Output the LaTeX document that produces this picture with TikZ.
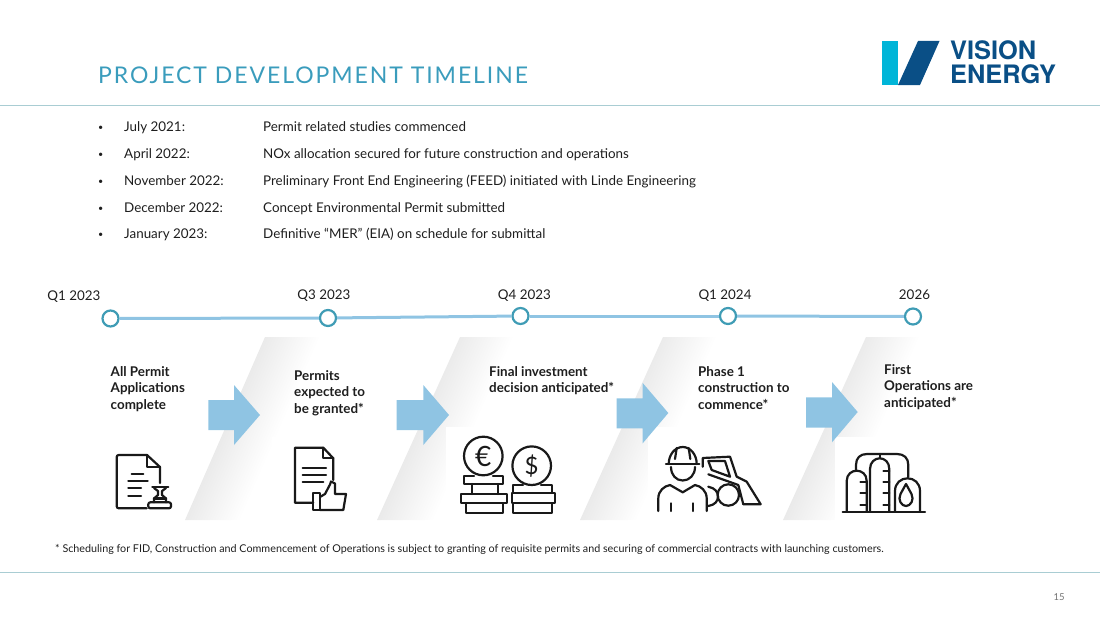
\documentclass[tikz,border=0pt]{standalone}
\usepackage{fontspec}
\setmainfont{Lato}
\newfontfamily\titlefont[LetterSpace=8.4]{Lato}
\newfontfamily\logofont{TeX Gyre Heros}
\usetikzlibrary{shadings}
\definecolor{ruleteal}{HTML}{A9CDD3}
\definecolor{titleteal}{HTML}{3A9CBC}
\definecolor{dotteal}{HTML}{3F9CB5}
\definecolor{lineblue}{HTML}{8FC4E3}
\definecolor{logocyan}{HTML}{00B5D8}
\definecolor{logoblue}{HTML}{0A4F86}
\definecolor{inkgray}{HTML}{1E1E1E}

\begin{document}
\begin{tikzpicture}[x=1pt,y=1pt]
	\tikzstyle{every node}+=[inner sep=0pt]
	\tikzstyle{headrule}=[ruleteal,line width=1pt]
	\tikzstyle{bodytext}=[anchor=base west,text=inkgray,font=\fontsize{13.4}{16}\selectfont]
	\tikzstyle{bullet}=[anchor=base west,text=inkgray,font=\fontsize{9}{16}\selectfont]
	\tikzstyle{quarter}=[text=inkgray,font=\fontsize{13.4}{16}\selectfont]
	\tikzstyle{stagelabel}=[anchor=north west,align=left,text=inkgray,font=\fontsize{13.4}{16.5}\selectfont\bfseries]
	\tikzstyle{milestone}=[circle,draw=dotteal,fill=white,line width=2.2pt,minimum size=16pt]
	\tikzstyle{timeline}=[lineblue,line width=3pt]
	\tikzstyle{band}=[left color=black!15,right color=white,middle color=white,shading angle=66.4]
	\tikzstyle{stagearrow}=[fill=lineblue]
	\tikzstyle{icon}=[black!90,line width=2.2pt,line join=round,line cap=round]
	\useasboundingbox (0,0) rectangle (1100,-618);
	% header
	\node [anchor=base west,text=titleteal,font=\titlefont\fontsize{23}{24}\selectfont] (title) at (98,-83) {PROJECT DEVELOPMENT TIMELINE};
	\draw [headrule] (0,-105) -- (1100,-105);
	\draw [headrule] (0,-572) -- (1100,-572);
	\fill [logocyan] (882,-41) rectangle (898,-85);
	\fill [logoblue] (898,-85) -- (918,-41) -- (939.5,-41) -- (920,-85) -- cycle;
	\node [anchor=base west,text=logoblue,font=\logofont\bfseries\fontsize{25.4}{24}\selectfont] (vision) at (950,-59.5) {VISION};
	\node [anchor=base west,text=logoblue,font=\logofont\bfseries\fontsize{25.4}{24}\selectfont] (energy) at (950,-84) {ENERGY};
	% bullets
	\node [bullet] (b1) at (98,-130) {•};
	\node [bodytext] (d1) at (124,-131) {July 2021:};
	\node [bodytext] (t1) at (263,-131) {Permit related studies commenced};
	\node [bullet] (b2) at (98,-157) {•};
	\node [bodytext] (d2) at (124,-158) {April 2022:};
	\node [bodytext] (t2) at (263,-158) {NOx allocation secured for future construction and operations};
	\node [bullet] (b3) at (98,-184) {•};
	\node [bodytext] (d3) at (124,-185) {November 2022:};
	\node [bodytext] (t3) at (263,-185) {Preliminary Front End Engineering (FEED) initiated with Linde Engineering};
	\node [bullet] (b4) at (98,-211) {•};
	\node [bodytext] (d4) at (124,-212) {December 2022:};
	\node [bodytext] (t4) at (263,-212) {Concept Environmental Permit submitted};
	\node [bullet] (b5) at (98,-237) {•};
	\node [bodytext] (d5) at (124,-238) {January 2023:};
	\node [bodytext] (t5) at (263,-238) {Definitive “MER” (EIA) on schedule for submittal};
	% timeline
	\node [milestone] (qa) at (110.5,-318.5) {};
	\node [milestone] (qb) at (328,-318) {};
	\node [milestone] (qc) at (520.5,-316) {};
	\node [milestone] (qd) at (728,-316) {};
	\node [milestone] (qe) at (913,-316.5) {};
	\draw [timeline] (qa) -- (qb);
	\draw [timeline] (qb) -- (qc);
	\draw [timeline] (qc) -- (qd);
	\draw [timeline] (qd) -- (qe);
	\node [quarter] (la) at (74,-297) {Q1 2023};
	\node [quarter] (lb) at (324,-296) {Q3 2023};
	\node [quarter] (lc) at (524.5,-296) {Q4 2023};
	\node [quarter] (ld) at (725,-296) {Q1 2024};
	\node [quarter] (le) at (914.5,-295) {2026};
	% bands
	\shade [band] (185,-520) -- (265,-337) -- (375,-337) -- (295,-520) -- cycle;
	\shade [band] (377,-520) -- (460,-337) -- (570,-337) -- (487,-520) -- cycle;
	\shade [band] (580,-520) -- (663,-337) -- (773,-337) -- (690,-520) -- cycle;
	\shade [band] (783,-520) -- (866,-337) -- (976,-337) -- (893,-520) -- cycle;
	\fill [white] (272,-437) rectangle (377,-521);
	\fill [white] (446,-427) rectangle (578,-521);
	\fill [white] (648,-427) rectangle (780,-521);
	\fill [white] (835,-437) rectangle (940,-521);
	% arrows
	\fill [stagearrow] (208.3,-400) -- (234,-400) -- (234,-385) -- (260,-415) -- (234,-445) -- (234,-430) -- (208.3,-430) -- cycle;
	\fill [stagearrow] (396.7,-400) -- (423.3,-400) -- (423.3,-385) -- (449,-415) -- (423.3,-445) -- (423.3,-430) -- (396.7,-430) -- cycle;
	\fill [stagearrow] (616.7,-398.3) -- (642.7,-398.3) -- (642.7,-383) -- (668.3,-413) -- (642.7,-443.3) -- (642.7,-428.3) -- (616.7,-428.3) -- cycle;
	\fill [stagearrow] (806,-397.3) -- (832,-397.3) -- (832,-382) -- (857.7,-412) -- (832,-442.3) -- (832,-427.6) -- (806,-427.6) -- cycle;
	% stage labels
	\node [stagelabel] (sa) at (110.5,-366) {All Permit\\Applications\\complete};
	\node [stagelabel] (sb) at (294,-370) {Permits\\expected to\\be granted*};
	\node [stagelabel] (sc) at (489,-366) {Final investment\\decision anticipated*};
	\node [stagelabel] (sd) at (698,-366) {Phase 1\\construction to\\commence*};
	\node [stagelabel] (se) at (884,-364) {First\\Operations are\\anticipated*};
	% permit icon
	\draw [icon,rounded corners=2pt] (147,-455) -- (116.7,-455) -- (116.7,-508.3) -- (146.7,-508.3);
	\draw [icon] (147,-455) -- (160,-467) -- (160,-483);
	\draw [icon] (147,-455) -- (147,-467) -- (160,-467);
	\draw [icon] (131.7,-474) -- (143.3,-474);
	\draw [icon] (128.3,-481) -- (147.7,-481);
	\draw [icon] (128.3,-488.3) -- (141,-488.3);
	\draw [icon] (128.3,-495.7) -- (141,-495.7);
	\draw [icon] (152.3,-487.3) -- (168.3,-487.3);
	\draw [icon] (154,-488) -- (158,-491) -- (158,-495) -- (154,-498.5) -- (154,-502.3);
	\draw [icon] (166,-488) -- (162,-491) -- (162,-495) -- (166,-498.5) -- (166,-502.3);
	\draw [icon] (154,-498.5) -- (166,-498.5);
	\draw [icon,rounded corners=2pt] (148.3,-502.3) rectangle (171,-508.3);
	% thumb icon
	\draw [icon] (313.3,-502.7) -- (295,-502.7) -- (295,-447.7) -- (323.3,-447.7) -- (333.3,-458.3) -- (333.3,-480);
	\draw [icon] (323.3,-447.7) -- (323.3,-458.3) -- (333.3,-458.3);
	\draw [icon] (302.7,-468.3) -- (326,-468.3);
	\draw [icon] (302.7,-475) -- (326,-475);
	\draw [icon] (302.7,-482.3) -- (323.3,-482.3);
	\draw [icon] (313.3,-493.3) rectangle (320,-510);
	\draw [icon] (320,-497) -- (325,-494) -- (330,-484.5) -- (331,-481.5) -- (335,-483.5) -- (335,-494) -- (346,-494) -- (343.3,-510) -- (320,-510);
	% coins icon
	\draw [icon] (483.3,-456) circle (19.3);
	\draw [icon] (531.7,-465.7) circle (19.3);
	\node [font=\fontsize{28}{28}\selectfont,text=black!90] (euro) at (483.3,-456) {€};
	\node [font=\fontsize{24}{24}\selectfont,text=black!90] (dollar) at (531.7,-465.7) {\$};
	\draw [icon] (474,-476) -- (464,-476) -- (464,-484) -- (503.3,-484) -- (503.3,-476) -- (493,-476);
	\draw [icon] (471.7,-484) -- (471.7,-494);
	\draw [icon] (498.3,-484) -- (498.3,-494);
	\draw [icon] (460.7,-494) rectangle (506.7,-503.3);
	\draw [icon] (466,-503.3) rectangle (503.3,-512.7);
	\draw [icon] (523,-485) -- (513.3,-485) -- (513.3,-493.3) -- (551.7,-493.3) -- (551.7,-485) -- (541,-485);
	\draw [icon] (511.7,-493.3) rectangle (555,-503.3);
	\draw [icon] (513.3,-503.3) rectangle (551.7,-512.7);
	% builder icon
	\draw [icon] (666,-464) -- (699.3,-464);
	\draw [icon] (668.7,-464) arc (180:0:14 and 17);
	\draw [icon] (676.7,-448) -- (675,-459);
	\draw [icon] (688.7,-448) -- (690.3,-459);
	\draw [icon] (671,-467) .. controls (671,-475) and (676,-480.5) .. (682.7,-480.5) .. controls (689.5,-480.5) and (695,-475) .. (695,-467);
	\draw [icon] (658.3,-511) -- (658.3,-498.3) .. controls (658.3,-491) and (664,-486) .. (670,-485) -- (682.7,-492.3) -- (695,-485) .. controls (701,-486) and (706.7,-491) .. (706.7,-498.3) -- (706.7,-511);
	\draw [icon] (671,-503.3) -- (671,-511);
	\draw [icon] (693.3,-503.3) -- (693.3,-511);
	\draw [icon] (702.7,-466.7) -- (702.7,-458) -- (730,-456.7) -- (736.7,-476.7) -- (746.7,-481.7) -- (760.7,-504.3) -- (743.3,-504.3) -- (738.3,-485) -- (708.3,-474.3);
	\draw [icon] (708.3,-461) -- (725,-461) -- (730,-476.7) -- (711.7,-470) -- cycle;
	\draw [icon] (728.3,-495) circle (10.7);
	\draw [icon] (708.3,-486.7) .. controls (715,-488) and (718,-492) .. (718,-496.5) .. controls (718,-501) and (715,-505) .. (708.3,-506);
	% plant icon
	\draw [icon] (842.7,-511.7) -- (925,-511.7);
	\draw [icon] (846.7,-511.7) -- (846.7,-481) .. controls (846.7,-474) and (852,-470.7) .. (856.7,-470.7) .. controls (861.5,-470.7) and (866.7,-474) .. (866.7,-481) -- (866.7,-511.7);
	\draw [icon] (870,-511.7) -- (870,-469) .. controls (870,-462) and (875,-458.3) .. (879.7,-458.3) .. controls (884.5,-458.3) and (889.3,-462) .. (889.3,-469) -- (889.3,-511.7);
	\draw [icon] (895,-511.7) -- (895,-491) .. controls (895,-483) and (901,-478.3) .. (907.5,-478.3) .. controls (914,-478.3) and (920,-483) .. (920,-491) -- (920,-511.7);
	\draw [icon] (856,-470) -- (856,-465) .. controls (856,-458) and (860,-454) .. (867,-454) -- (897,-454) .. controls (904,-454) and (908.3,-458) .. (908.3,-465) -- (908.3,-477);
	\draw [icon] (880,-454) -- (880,-458);
	\draw [icon] (860.5,-481.7) -- (866.7,-481.7);
	\draw [icon] (860.5,-493.3) -- (866.7,-493.3);
	\draw [icon] (860.5,-505) -- (866.7,-505);
	\draw [icon] (883.5,-470.7) -- (889.3,-470.7);
	\draw [icon] (883.5,-481.7) -- (889.3,-481.7);
	\draw [icon] (883.5,-493.3) -- (889.3,-493.3);
	\draw [icon] (883.5,-505) -- (889.3,-505);
	\draw [icon] (906,-484) -- (911.5,-494) .. controls (914.5,-500) and (910.5,-506) .. (906,-506) .. controls (901.5,-506) and (897.5,-500) .. (900.5,-494) -- cycle;
	% footer
	\node [anchor=base west,text=inkgray,font=\fontsize{10.75}{12}\selectfont] (note) at (55,-552) {* Scheduling for FID, Construction and Commencement of Operations is subject to granting of requisite permits and securing of commercial contracts with launching customers.};
	\node [text=black!55,font=\fontsize{9.5}{12}\selectfont] (pageno) at (1059,-597.5) {15};
\end{tikzpicture}
\end{document}
